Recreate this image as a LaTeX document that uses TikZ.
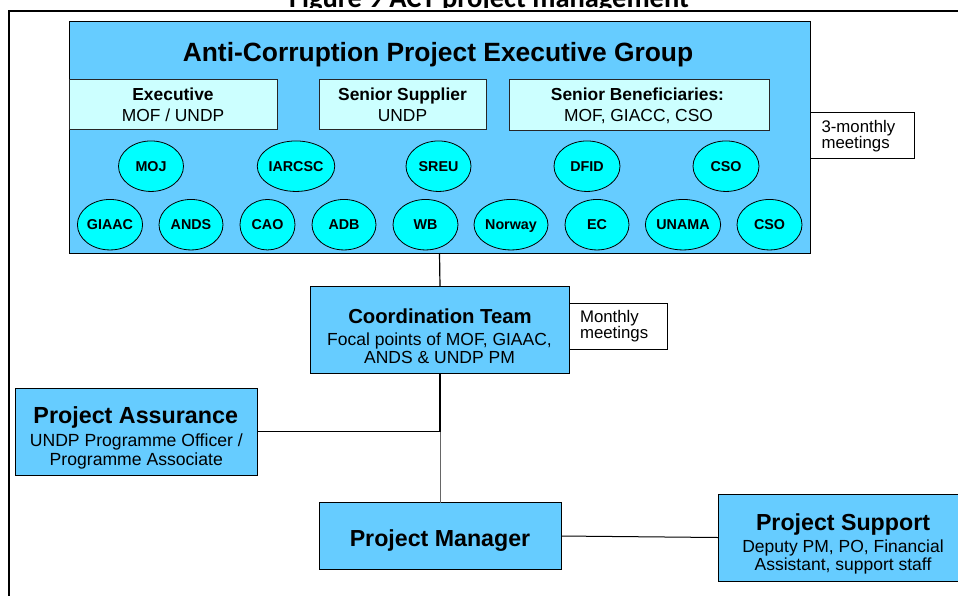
\documentclass[tikz,border=0pt]{standalone}
\usepackage{fontspec}
\setmainfont{Liberation Sans}
\newfontfamily\capfont{Carlito}
\usetikzlibrary{shapes.geometric}

\definecolor{grpblue}{RGB}{102,204,255}
\definecolor{palecyan}{RGB}{204,255,255}
\definecolor{orgcyan}{RGB}{0,255,255}

\newcommand\fsz[1]{\fontsize{#1}{#1}\selectfont}

\begin{document}
\begin{tikzpicture}[x=1pt,y=-1pt,
  every node/.style={inner sep=0pt, outer sep=0pt},
  panel/.style={draw=black, line width=0.9pt, fill=grpblue},
  rolebox/.style={draw=black!85, line width=0.9pt, fill=palecyan},
  org/.style={ellipse, draw=black, line width=0.8pt, fill=orgcyan,
    minimum height=50.5pt, font=\fsz{14.3}\bfseries,
    text height=10.2pt, text depth=0pt},
  note/.style={draw=black, line width=0.8pt, fill=white},
  txt/.style={anchor=base},
  lefttxt/.style={anchor=base west, font=\fsz{16.8}},
  link/.style={draw=black, line width=1pt},
]
\useasboundingbox (0,0) rectangle (958,595);
\clip (0,0) rectangle (958,595);

% caption above the frame (its lower part only shows)
\begin{scope}
  \clip (0,0) rectangle (958,7.4);
  \node[txt, font=\capfont\bfseries\fsz{28.5}] (caption) at (489,7) {Figure 9 ACT project management};
\end{scope}

% outer frame
\draw[line width=2pt, line cap=rect] (9,605) -- (9,11) -- (970,11);

% executive group panel
\node[panel, minimum width=741pt, minimum height=231.5pt] (group) at (439.5,137.25) {};
\node[txt, font=\fsz{26.4}\bfseries] (grouptitle) at (438,61) {Anti-Corruption Project Executive Group};

% role boxes
\node[rolebox, minimum width=208pt, minimum height=50.5pt] (exec) at (173,104.3) {};
\node[txt, font=\fsz{17.4}\bfseries] (exec-a) at (173,100.7) {Executive};
\node[txt, font=\fsz{17.4}] (exec-b) at (173,121) {MOF / UNDP};

\node[rolebox, minimum width=167pt, minimum height=50.5pt] (supp) at (402.5,104.5) {};
\node[txt, font=\fsz{17.4}\bfseries] (supp-a) at (402.5,100.7) {Senior Supplier};
\node[txt, font=\fsz{17.4}] (supp-b) at (402.5,121) {UNDP};

\node[rolebox, minimum width=260pt, minimum height=51.5pt] (benef) at (639,105) {};
\node[txt, font=\fsz{17.4}\bfseries] (benef-a) at (637.5,100.7) {Senior Beneficiaries:};
\node[txt, font=\fsz{17.4}] (benef-b) at (638.5,121.5) {MOF, GIACC, CSO};

% member organisations
\foreach \nm/\cx/\w/\lbl in {moj/151/65/MOJ, iarcsc/296/75/IARCSC, sreu/438.5/65/SREU,
                              dfid/587/66/DFID, csoa/726/66/CSO}
  \node[org, minimum width=\w pt] (\nm) at (\cx,166.2) {\lbl};
\foreach \nm/\cx/\w/\lbl in {giaac/110/65/GIAAC, ands/191/64/ANDS, cao/267.5/55/CAO,
                              adb/344/64/ADB, wb/425.5/65/WB, norway/511/74/Norway,
                              ec/597/64/EC, unama/683/74/UNAMA, csob/769.5/65/CSO}
  \node[org, minimum width=\w pt] (\nm) at (\cx,224.7) {\lbl};

% meeting notes
\node[note, minimum width=104pt, minimum height=46pt] (qnote) at (862,135) {};
\node[lefttxt] (qnote-a) at (821.5,132.4) {3-monthly};
\node[lefttxt] (qnote-b) at (821.5,148.6) {meetings};

% coordination team
\node[panel, minimum width=259pt, minimum height=86.6pt] (coord) at (440,330) {};
\node[txt, font=\fsz{20.3}\bfseries] (coord-a) at (440,323.3) {Coordination Team};
\node[txt, font=\fsz{17.5}] (coord-b) at (439.5,345) {Focal points of MOF, GIAAC,};
\node[txt, font=\fsz{17.5}] (coord-c) at (439.5,363.3) {ANDS \& UNDP PM};

\node[note, minimum width=98.2pt, minimum height=45.7pt] (mnote) at (618.6,326.2) {};
\node[lefttxt] (mnote-a) at (580,322.6) {Monthly};
\node[lefttxt] (mnote-b) at (580,338.8) {meetings};

% project assurance
\node[panel, minimum width=241.4pt, minimum height=86.7pt] (assure) at (136.3,431.7) {};
\node[txt, font=\fsz{23.3}\bfseries] (assure-a) at (135.8,423.3) {Project Assurance};
\node[txt, font=\fsz{17.6}] (assure-b) at (136.3,446.7) {UNDP Programme Officer /};
\node[txt, font=\fsz{17.6}] (assure-c) at (136.3,465) {Programme Associate};

% project manager
\node[panel, minimum width=242pt, minimum height=66.6pt] (pm) at (440,536) {};
\node[txt, font=\fsz{23.2}\bfseries] (pm-a) at (440,546) {Project Manager};

% project support
\node[panel, minimum width=250pt, minimum height=87pt] (support) at (843,537.5) {};
\node[txt, font=\fsz{23.2}\bfseries] (support-a) at (843,530) {Project Support};
\node[txt, font=\fsz{17.5}] (support-b) at (843,552.7) {Deputy PM, PO, Financial};
\node[txt, font=\fsz{17.5}] (support-c) at (843,570.7) {Assistant, support staff};

% connectors
\coordinate (junction) at (coord.south |- assure.east);
\draw[link, line width=1.2pt] (group.south) -- (coord.north);
\draw[link, line width=1.5pt] (coord.south) -- (junction);
\draw[link, draw=black!60] (junction) -- (pm.north);
\draw[link] (assure.east) -- (junction);
\draw[link] (pm.east) -- (support.west);
\end{tikzpicture}
\end{document}
